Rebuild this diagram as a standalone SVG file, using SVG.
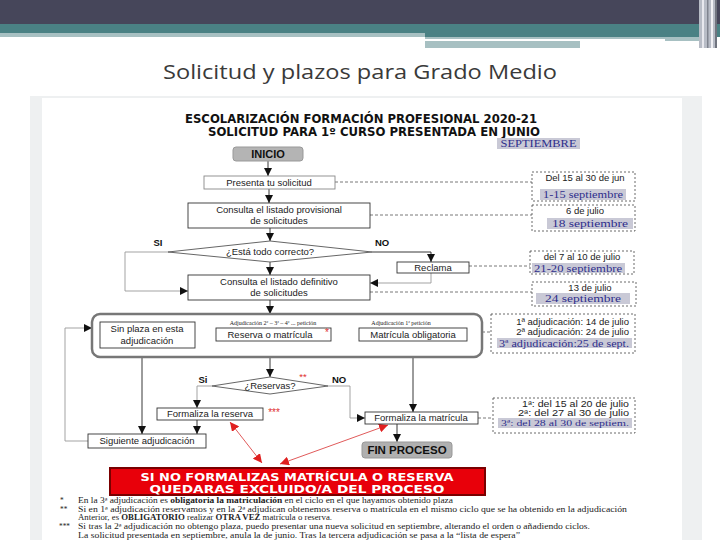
<svg xmlns="http://www.w3.org/2000/svg" width="720" height="540" viewBox="0 0 720 540">
<defs>
<marker id="ah" viewBox="0 0 10 10" refX="10" refY="5" markerWidth="8" markerHeight="8" markerUnits="userSpaceOnUse" orient="auto"><path d="M0,0 L10,5 L0,10 z" fill="#111"/></marker>
<marker id="rh" viewBox="0 0 10 10" refX="10" refY="5" markerWidth="9" markerHeight="9" markerUnits="userSpaceOnUse" orient="auto-start-reverse"><path d="M0,0 L10,5 L0,10 z" fill="#e02020"/></marker>
<style>
.t{font-family:"Liberation Sans",Arial,sans-serif;font-size:9.5px;fill:#222;text-anchor:middle}
.b{font-family:"Liberation Sans",Arial,sans-serif;font-weight:bold;fill:#111;text-anchor:middle}
.h{font-family:"DejaVu Sans","Liberation Sans",sans-serif;font-weight:bold;fill:#111;text-anchor:middle}
.s{font-family:"Liberation Serif","Times New Roman",serif;fill:#222}
.blue{font-family:"Liberation Serif","Times New Roman",serif;font-size:10.5px;fill:#2e2e8c;text-anchor:middle}
.hl{fill:#c9c9d6}
.box{fill:#fff;stroke:#333;stroke-width:0.9}
.lbox{fill:#fff;stroke:#888;stroke-width:0.9}
.dbox{fill:#fff;stroke:#444;stroke-width:0.8;stroke-dasharray:2,2}
.ln{fill:none;stroke:#222;stroke-width:0.9}
.gl{fill:none;stroke:#999;stroke-width:0.9}
.dl{fill:none;stroke:#555;stroke-width:0.8;stroke-dasharray:3,2}
.rl{fill:none;stroke:#d83030;stroke-width:0.8}
.r{text-anchor:end}
</style>
</defs>
<!-- header -->
<rect x="0" y="0" width="720" height="24" fill="#46465a"/>
<rect x="0" y="24" width="720" height="10" fill="#4a8184"/>
<rect x="0" y="33" width="425" height="4" fill="#a7c0c2"/>
<rect x="425" y="33" width="295" height="4" fill="#4a8184"/>
<rect x="425" y="37" width="275" height="11" fill="#a7c0c2"/>
<rect x="425" y="39" width="240" height="2" fill="#fff"/>
<rect x="580" y="41" width="120" height="8" fill="#fff"/>
<rect x="699" y="0" width="18" height="48" fill="#b8bcc6"/>
<rect x="702" y="0" width="2" height="48" fill="#e8e8ee"/>
<rect x="707" y="0" width="1.5" height="48" fill="#80848f"/>
<rect x="711" y="0" width="2" height="48" fill="#f0f0f4"/>
<rect x="715" y="0" width="2" height="48" fill="#70747f"/>
<text x="360" y="79" font-family="'Open Sans','DejaVu Sans',sans-serif" font-size="20" fill="#3a3a3a" text-anchor="middle" textLength="394" lengthAdjust="spacingAndGlyphs">Solicitud y plazos para Grado Medio</text>
<!-- panel -->
<rect x="30" y="96" width="672" height="444" fill="#eef0f1"/>
<rect x="42" y="98" width="640" height="442" fill="#fff"/>
<!-- heading -->
<text class="h" x="361" y="123" font-size="11.5" textLength="352" lengthAdjust="spacingAndGlyphs">ESCOLARIZACIÓN FORMACIÓN PROFESIONAL 2020-21</text>
<text class="h" x="374" y="136" font-size="11.5" textLength="332" lengthAdjust="spacingAndGlyphs">SOLICITUD PARA 1º CURSO PRESENTADA EN JUNIO</text>
<rect class="hl" x="497" y="138" width="83" height="11"/>
<text class="blue" x="538.5" y="147" textLength="76" lengthAdjust="spacingAndGlyphs">SEPTIEMBRE</text>
<!-- connectors -->
<g id="connectors">
<path class="ln" d="M268,161 V176" marker-end="url(#ah)"/>
<path class="ln" d="M269,189 V203" marker-end="url(#ah)"/>
<path class="ln" d="M270,228 V241" marker-end="url(#ah)"/>
<path class="gl" d="M168,252 H125 V291 H188" marker-end="url(#ah)"/>
<path class="ln" d="M270,261 V275" marker-end="url(#ah)"/>
<path class="ln" d="M372,252 H431 V262" marker-end="url(#ah)"/>
<path class="gl" d="M431,273 V283 H370" marker-end="url(#ah)"/>
<path class="ln" d="M270,300 V314" marker-end="url(#ah)"/>
<path class="ln" d="M142,348 V434" marker-end="url(#ah)"/>
<path class="ln" d="M270,341 V377" marker-end="url(#ah)"/>
<path class="gl" d="M212,386 H197 V408" marker-end="url(#ah)"/>
<path class="ln" d="M197,420 V434" marker-end="url(#ah)"/>
<path class="gl" d="M88,441 H65 V328 H92" marker-end="url(#ah)"/>
<path class="gl" d="M328,386 H350 V418 H365" marker-end="url(#ah)"/>
<path class="ln" d="M413,341 V412" marker-end="url(#ah)"/>
<path class="ln" d="M397,424 V442" marker-end="url(#ah)"/>
<path class="dl" d="M335,182 H532"/>
<path class="dl" d="M370,215 H532"/>
<path class="dl" d="M469,266 H530"/>
<path class="dl" d="M370,292 H532"/>
<path class="dl" d="M482,332 H491"/>
<path class="dl" d="M478,418 H493"/>
<path class="rl" d="M230,422 L262,463" marker-start="url(#rh)" marker-end="url(#rh)"/>
<path class="rl" d="M388,425 L280,464" marker-start="url(#rh)" marker-end="url(#rh)"/>
</g>
<!-- nodes -->
<g id="inicio"><rect x="233" y="147" width="70" height="14" rx="3" fill="#b4b4b4" stroke="#999"/><text class="b" x="268" y="158" font-size="11">INICIO</text></g>
<g id="presenta"><rect class="lbox" x="204" y="176" width="131" height="13"/><text class="t" x="269" y="186">Presenta tu solicitud</text></g>
<g id="provisional"><rect class="box" x="188" y="203" width="182" height="25"/><text class="t" x="279" y="213">Consulta el listado provisional</text><text class="t" x="279" y="224">de solicitudes</text></g>
<g id="correcto"><polygon points="168,252 270,241 372,252 270,262" fill="#fff" stroke="#555" stroke-width="0.9"/><text class="t" x="270" y="255">¿Está todo correcto?</text><text class="b" x="158" y="246" font-size="9.5">SI</text><text class="b" x="382" y="246" font-size="9.5">NO</text></g>
<g id="reclama"><rect class="box" x="397" y="262" width="72" height="11"/><text class="t" x="433" y="271">Reclama</text></g>
<g id="definitivo"><rect class="box" x="188" y="275" width="182" height="25"/><text class="t" x="279" y="285">Consulta el listado definitivo</text><text class="t" x="279" y="296">de solicitudes</text></g>
<g id="adjudicacion"><rect x="92" y="314" width="390" height="43" rx="8" fill="#fff" stroke="#777" stroke-width="2.5"/></g>
<g id="sinplaza"><rect class="box" x="100" y="322" width="95" height="26"/><text class="t" x="147" y="332">Sin plaza en esta</text><text class="t" x="147" y="344">adjudicación</text></g>
<g id="reserva"><text class="s" x="273" y="325" font-size="6" text-anchor="middle">Adjudicación 2ª – 3ª – 4ª ... petición</text><rect class="box" x="216" y="328" width="115" height="13"/><text class="t" x="270" y="338" font-size="10">Reserva o matrícula</text><text x="327" y="336" font-family="Liberation Sans,sans-serif" font-size="10" fill="#e03030" text-anchor="middle">*</text></g>
<g id="obligatoria"><text class="s" x="401" y="325" font-size="6" text-anchor="middle">Adjudicación 1ª petición</text><rect class="box" x="359" y="328" width="108" height="13"/><text class="t" x="413" y="338" font-size="10">Matrícula obligatoria</text></g>
<g id="reservas"><polygon points="212,386 270,377 328,386 270,394" fill="#fff" stroke="#555" stroke-width="0.9"/><text class="t" x="270" y="389">¿Reservas?</text><text x="303" y="380" font-family="Liberation Sans,sans-serif" font-size="9.5" fill="#e03030" text-anchor="middle">**</text><text class="b" x="203" y="383" font-size="9.5">Si</text><text class="b" x="339" y="383" font-size="9.5">NO</text></g>
<g id="freserva"><rect class="box" x="157" y="408" width="106" height="12"/><text class="t" x="210" y="417">Formaliza la reserva</text><text x="274" y="416" font-family="Liberation Sans,sans-serif" font-size="10" fill="#e03030" text-anchor="middle">***</text></g>
<g id="siguiente"><rect class="box" x="88" y="434" width="118" height="14"/><text class="t" x="147" y="444">Siguiente adjudicación</text></g>
<g id="fmatricula"><rect class="box" x="365" y="412" width="113" height="12"/><text class="t" x="421" y="421">Formaliza la matrícula</text></g>
<g id="fin"><rect x="362" y="442" width="90" height="16" rx="3" fill="#b0b0b0" stroke="#999"/><text class="b" x="407" y="454" font-size="11.5">FIN PROCESO</text></g>
<!-- date boxes -->
<g id="d1"><rect class="dbox" x="532" y="172" width="103" height="29"/><text class="t" x="585" y="181">Del 15 al 30 de jun</text><rect class="hl" x="540" y="189" width="86" height="11"/><text class="blue" x="583" y="198" textLength="80" lengthAdjust="spacingAndGlyphs">1-15 septiembre</text></g>
<g id="d2"><rect class="dbox" x="532" y="205" width="103" height="26"/><text class="t" x="585" y="214">6 de julio</text><rect class="hl" x="547" y="218" width="86" height="11"/><text class="blue" x="590" y="227" textLength="76" lengthAdjust="spacingAndGlyphs">18 septiembre</text></g>
<g id="d3"><rect class="dbox" x="530" y="251" width="104" height="23"/><text class="t" x="582" y="260">del 7 al 10 de julio</text><rect class="hl" x="532" y="263" width="93" height="10"/><text class="blue" x="578" y="271.5" textLength="88" lengthAdjust="spacingAndGlyphs">21-20 septiembre</text></g>
<g id="d4"><rect class="dbox" x="532" y="282" width="104" height="24"/><text class="t" x="590" y="291">13 de julio</text><rect class="hl" x="536" y="293" width="94" height="11"/><text class="blue" x="583" y="302" textLength="76" lengthAdjust="spacingAndGlyphs">24 septiembre</text></g>
<g id="d5"><rect class="dbox" x="491" y="314" width="144" height="39"/><text class="t r" x="629" y="325">1ª adjudicación: 14 de julio</text><text class="t r" x="629" y="335">2ª adjudicación: 24 de julio</text><rect class="hl" x="497" y="338" width="135" height="10"/><text class="blue" x="564" y="346.5" textLength="130" lengthAdjust="spacingAndGlyphs">3ª adjudicación:25 de sept.</text></g>
<g id="d6"><rect class="dbox" x="493" y="398" width="142" height="35"/><text class="t r" x="629" y="407" style="font-size:8.3px" textLength="107" lengthAdjust="spacingAndGlyphs">1ª: del 15 al 20 de julio</text><text class="t r" x="629" y="416" style="font-size:8.3px" textLength="111" lengthAdjust="spacingAndGlyphs">2ª: del 27 al 30 de julio</text><rect class="hl" x="498" y="418" width="134" height="10"/><text class="blue" x="565" y="426" style="font-size:9px" textLength="128" lengthAdjust="spacingAndGlyphs">3ª: del 28 al 30 de septiem.</text></g>
<!-- warning -->
<g id="aviso"><rect x="110" y="468" width="375" height="27" fill="#e8000a" stroke="#7a0000" stroke-width="2"/><text class="h" x="297" y="480.5" font-size="10.5" style="fill:#fff" textLength="313" lengthAdjust="spacingAndGlyphs">SI NO FORMALIZAS MATRÍCULA O RESERVA</text><text class="h" x="297" y="493" font-size="10.5" style="fill:#fff" textLength="295" lengthAdjust="spacingAndGlyphs">QUEDARAS EXCLUIDO/A DEL PROCESO</text></g>
<!-- notes -->
<g id="notas" class="s" font-size="7.3">
<text x="60" y="503">*</text>
<text x="78" y="503" textLength="375" lengthAdjust="spacingAndGlyphs">En la 3ª adjudicación es <tspan font-weight="bold">obligatoria la matriculación</tspan> en el ciclo en el que hayamos obtenido plaza</text>
<text x="60" y="512">**</text>
<text x="78" y="511.5" textLength="549" lengthAdjust="spacingAndGlyphs">Si en 1ª adjudicación reservamos y en la 2ª  adjudican obtenemos reserva o matrícula en el mismo ciclo que se ha obtenido en la adjudicación</text>
<text x="78" y="520" textLength="254" lengthAdjust="spacingAndGlyphs">Anterior, es <tspan font-weight="bold">OBLIGATORIO</tspan> realizar <tspan font-weight="bold">OTRA VEZ</tspan> matrícula o reserva.</text>
<text x="59" y="529">***</text>
<text x="78" y="528.5" textLength="512" lengthAdjust="spacingAndGlyphs">Si tras la 2ª adjudicación no obtengo plaza, puedo presentar una nueva solicitud en septiembre, alterando el orden o añadiendo ciclos.</text>
<text x="78" y="537.5" textLength="442" lengthAdjust="spacingAndGlyphs">La solicitud presentada en septiembre, anula la de junio. Tras la tercera adjudicación se pasa a la “lista de espera”</text>
</g>
</svg>
